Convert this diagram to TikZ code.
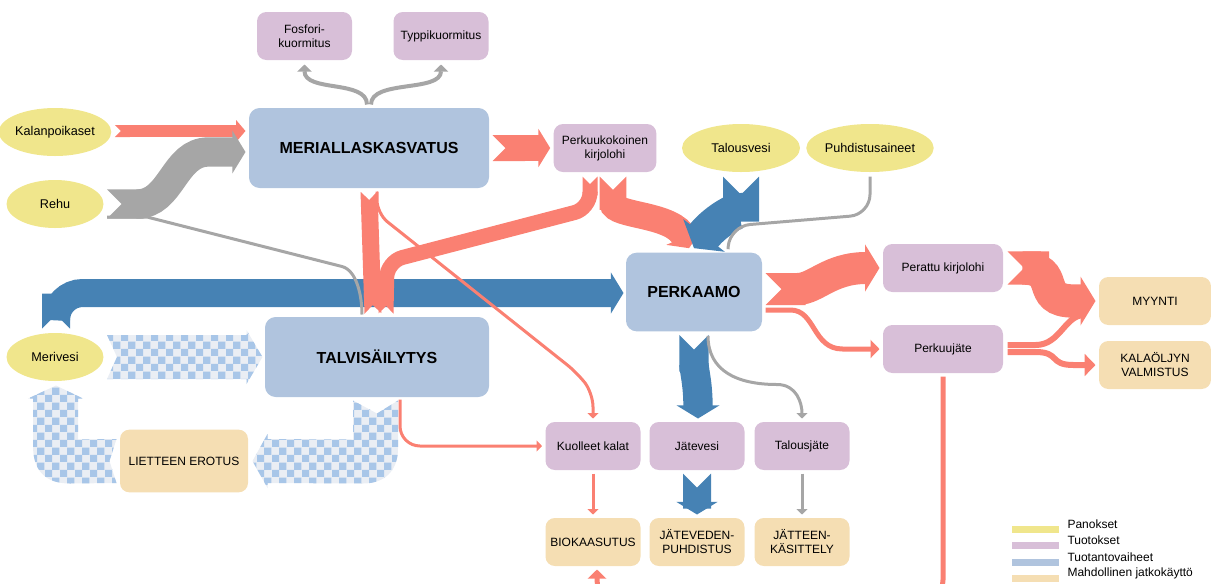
\documentclass[tikz,border=0pt]{standalone}
\usepackage{fontspec}
\setmainfont{Liberation Sans}
\usetikzlibrary{arrows.meta,calc,shapes.geometric,patterns}

\definecolor{panos}{RGB}{240,230,140}
\definecolor{tuotos}{RGB}{216,191,216}
\definecolor{vaihe}{RGB}{176,196,222}
\definecolor{jatko}{RGB}{245,222,179}
\definecolor{lohi}{RGB}{250,128,114}
\definecolor{vesi}{RGB}{70,130,180}
\definecolor{harmaa}{RGB}{166,166,166}
\definecolor{ruutu}{RGB}{168,198,232}
\definecolor{ruutupohja}{RGB}{234,238,244}

\tikzset{
  every picture/.style={line width=0.75pt},
  pieni/.style={font=\fontsize{9}{10.5}\selectfont},
  panosellipsi/.style={ellipse, fill=panos, inner sep=0pt, minimum width=72.75pt, minimum height=36pt, font=\fontsize{9.5}{11}\selectfont},
  tuotoslaatikko/.style={rectangle, rounded corners=7pt, fill=tuotos, inner sep=0pt, minimum width=71.25pt, minimum height=36pt, align=center, pieni},
  vaihelaatikko/.style={rectangle, rounded corners=8pt, fill=vaihe, inner sep=0pt, minimum height=60pt, font=\fontsize{12}{14}\selectfont\bfseries},
  jatkolaatikko/.style={rectangle, rounded corners=7pt, fill=jatko, inner sep=0pt, minimum width=71.25pt, minimum height=36pt, align=center, pieni},
  paksu/.style={line width=#1, {Triangle Cap[reversed]}-{Triangle[length=0pt 0.45, width=0pt 1.45]}},
  lovi/.style={line width=#1, {Triangle Cap[reversed]}-{Triangle Cap[reversed]}},
  ohut/.style={line width=#1, -{Triangle[length=0pt 1.8, width=0pt 3.6]}},
  ruudut/.style={preaction={fill=ruutupohja}, pattern=checkerboard, pattern color=ruutu},
}

\begin{document}
\begin{tikzpicture}[x=0.75pt,y=0.75pt,yscale=-1,xscale=1]
	\clip (0,0) rectangle (1211,583);

	% Panokset
	\node[panosellipsi] (kalanp) at (55,132) {Kalanpoikaset};
	\node[panosellipsi] (rehu) at (55,204) {Rehu};
	\node[panosellipsi] (merivesi) at (55,357) {Merivesi};
	\node[panosellipsi, minimum width=88.5pt] (talousvesi) at (741,148) {Talousvesi};
	\node[panosellipsi, minimum width=90pt] (puhdist) at (870,148) {Puhdistusaineet};

	% Tuotantovaiheet
	\node[vaihelaatikko, minimum width=180pt] (meri) at (369,148) {MERIALLASKASVATUS};
	\node[vaihelaatikko, minimum width=168pt] (talvi) at (377,357) {TALVIS\"AILYTYS};
	\node[vaihelaatikko, minimum width=102pt, minimum height=59pt] (perkaamo) at (694,292) {PERKAAMO};

	% Tuotokset
	\node[tuotoslaatikko] (fosfori) at (304.5,36) {Fosfori-\\kuormitus};
	\node[tuotoslaatikko] (typpi) at (441,36) {Typpikuormitus};
	\node[tuotoslaatikko, minimum width=77pt] (perkkok) at (605,148) {Perkuukokoinen\\kirjolohi};
	\node[tuotoslaatikko, minimum width=90pt] (perattu) at (943,268) {Perattu kirjolohi};
	\node[tuotoslaatikko, minimum width=90pt] (perkuujate) at (943,349) {Perkuuj\"ate};
	\node[tuotoslaatikko] (kuolleet) at (593,446) {Kuolleet kalat};
	\node[tuotoslaatikko] (jatevesi) at (697,446) {J\"atevesi};
	\node[tuotoslaatikko] (talousjate) at (802,446) {Talousj\"ate};

	% Mahdollinen jatkokaytto
	\node[jatkolaatikko, minimum width=84pt] (myynti) at (1155,301) {MYYNTI};
	\node[jatkolaatikko, minimum width=84pt] (kalaoljy) at (1155,365) {KALA\"OLJYN\\VALMISTUS};
	\node[jatkolaatikko, minimum width=96pt, minimum height=47pt] (liete) at (184,461) {LIETTEEN EROTUS};
	\node[jatkolaatikko] (biokaasu) at (593,542) {BIOKAASUTUS};
	\node[jatkolaatikko] (jatepuhd) at (697,542) {J\"ATEVEDEN-\\PUHDISTUS};
	\node[jatkolaatikko] (jatekas) at (802,542) {J\"ATTEEN-\\K\"ASITTELY};

	% Merivesi -> PERKAAMO
	\draw[paksu=21pt, vesi, rounded corners=20pt] ($(merivesi.north)+(1,-4)$) |- ($(perkaamo.west)+(-2,1)$);

	% Kierto: Merivesi -> TALVISAILYTYS -> LIETTEEN EROTUS -> Merivesi
	\fill[ruudut] ($(merivesi.east)+(3,-22)$) -- ($(talvi.west)+(-18,-22)$) -- ($(talvi.west)+(-18,-27)$) -- ($(talvi.west)+(-2,0)$) -- ($(talvi.west)+(-18,27)$) -- ($(talvi.west)+(-18,22)$) -- ($(merivesi.east)+(3,22)$) -- ($(merivesi.east)+(13,0)$) -- cycle;
	\fill[ruudut] ($(talvi.south)+(-24,3)$) -- ($(talvi.south)+(0,16)$) -- ($(talvi.south)+(21,3)$) -- ($(talvi.south)+(21,51)$) .. controls ($(talvi.south)+(21,73)$) and ($(talvi.south)+(8,86)$) .. ($(talvi.south)+(-14,86)$) -- ($(liete.east)+(19,22)$) -- ($(liete.east)+(19,27)$) -- ($(liete.east)+(4,0)$) -- ($(liete.east)+(19,-27)$) -- ($(liete.east)+(19,-22)$) -- ($(talvi.south)+(-24,42)$) -- cycle;
	\fill[ruudut] ($(liete.west)+(-3,-22)$) -- ($(merivesi.south)+(23,58)$) -- ($(merivesi.south)+(23,17)$) -- ($(merivesi.south)+(28,17)$) -- ($(merivesi.south)+(1,4)$) -- ($(merivesi.south)+(-27,17)$) -- ($(merivesi.south)+(-22,17)$) -- ($(merivesi.south)+(-22,64)$) .. controls ($(merivesi.south)+(-22,89)$) and ($(merivesi.south)+(-10,102)$) .. ($(merivesi.south)+(15,102)$) -- ($(liete.west)+(-3,22)$) -- ($(liete.west)+(-10,0)$) -- cycle;

	% Kalanpoikaset, Rehu -> MERIALLASKASVATUS
	\draw[paksu=9pt, lohi, {Triangle Cap[reversed]}-{Triangle[length=7pt, width=16pt]}] ($(kalanp.east)+(3,-1)$) -- ($(meri.west |- kalanp.east)+(-3,-1)$);
	\draw[paksu=22pt, harmaa] ($(rehu.east)+(3,0)$) -- ++(30,0) .. controls +(35,0) and +(-35,0) .. ($(meri.west)+(-40,4)$) -- ($(meri.west)+(-3,4)$);
	\draw[harmaa, line width=2.25pt] ($(rehu.east)+(3,13)$) -- ++(40,0) -- ($(talvi.north)+(-35,-50)$) .. controls +(15,4) and +(0,-18) .. ($(talvi.north)+(-15,-2)$);

	% MERIALLASKASVATUS -> kuormitus
	\draw[ohut=3pt, harmaa] ($(meri.north)+(-2,-3)$) .. controls +(0,-25) and +(0,28) .. ($(fosfori.south)+(0,4)$);
	\draw[ohut=3pt, harmaa] ($(meri.north)+(2,-3)$) .. controls +(0,-25) and +(0,28) .. ($(typpi.south)+(0,4)$);

	% MERIALLASKASVATUS -> Perkuukokoinen kirjolohi, TALVISAILYTYS, Kuolleet kalat
	\draw[paksu=19.5pt, lohi] ($(meri.east)+(3,0)$) -- ($(perkkok.west)+(-3,0)$);
	\draw[lovi=12.75pt, lohi] ($(meri.south)+(0,3)$) -- ($(talvi.north)+(-4,-3)$);
	\draw[ohut=2.25pt, lohi, rounded corners=10pt] ($(meri.south)+(8,3)$) -- ++(0,22) -- ($(kuolleet.north)+(-15,-48)$) -- ($(kuolleet.north)+(0,-28)$) -- ($(kuolleet.north)+(0,-3)$);

	% Perkuukokoinen kirjolohi -> TALVISAILYTYS, PERKAAMO
	\draw[lovi=11.25pt, lohi, rounded corners=12pt] ($(perkkok.south)+(-15,4)$) -- ++(0,32) -- ($(talvi.north)+(10,-55)$) -- ($(talvi.north)+(9,-3)$);
	\draw[paksu=20pt, lohi] ($(perkkok.south)+(8,4)$) .. controls +(0,40) and +(-15,-35) .. ($(perkaamo.north)+(-5,-4)$);

	% Talousvesi, Puhdistusaineet -> PERKAAMO
	\draw[paksu=27pt, vesi] ($(talousvesi.south)+(0,4)$) .. controls +(0,30) and +(22,-28) .. ($(perkaamo.north)+(0,-4)$);
	\draw[harmaa, line width=2.25pt, rounded corners=15pt] ($(puhdist.south)+(0,4)$) -- ++(0,38) -- ($(perkaamo.north)+(36,-26)$) -- ($(perkaamo.north)+(34,-3)$);

	% TALVISAILYTYS -> Kuolleet kalat
	\draw[ohut=2.25pt, lohi, rounded corners=15pt] ($(talvi.south)+(23,2)$) |- ($(kuolleet.west)+(-3,0)$);

	% PERKAAMO -> Jatevesi, Talousjate
	\draw[paksu=22pt, vesi] ($(perkaamo.south)+(0,3)$) .. controls +(0,35) and +(0,-35) .. ($(jatevesi.north)+(1,-3)$);
	\draw[ohut=2.25pt, harmaa] ($(perkaamo.south)+(14,4)$) .. controls +(0,35) and +(-40,0) .. ($(talousjate.north)+(-25,-37)$) .. controls +(20,0) and +(0,-15) .. ($(talousjate.north)+(0,-3)$);

	% PERKAAMO -> Perattu kirjolohi, Perkuujate
	\draw[paksu=24pt, lohi] ($(perkaamo.east)+(3,-3)$) .. controls +(50,0) and +(-50,0) .. ($(perattu.west)+(-3,0)$);
	\draw[ohut=3.75pt, lohi] ($(perkaamo.east)+(3,18)$) -- ++(25,0) .. controls +(25,0) and +(-30,0) .. ($(perkuujate.west)+(-40,0)$) -- ($(perkuujate.west)+(-3,0)$);

	% -> MYYNTI, KALAOLJYN VALMISTUS, BIOKAASUTUS
	\draw[paksu=25pt, lohi] ($(perattu.east)+(4,0)$) -- ++(15,0) .. controls +(40,0) and +(-40,0) .. ($(myynti.west)+(-25,0)$) -- ($(myynti.west)+(-3,0)$);
	\draw[lohi, line width=4.5pt] ($(perkuujate.east)+(4,-4)$) -- ++(28,0) .. controls +(25,0) and +(-20,0) .. ($(myynti.west)+(-14,14)$);
	\draw[ohut=4.5pt, lohi] ($(perkuujate.east)+(4,3)$) -- ++(28,0) .. controls +(25,0) and +(-25,0) .. ($(kalaoljy.west)+(-25,0)$) -- ($(kalaoljy.west)+(-3,0)$);
	\draw[ohut=3.75pt, lohi, rounded corners=20pt] ($(perkuujate.south)+(0,3)$) -- ++(0,230) -| ($(biokaasu.south)+(4,3)$);

	% Tuotokset -> jatkokaytto
	\draw[ohut=2.25pt, lohi] ($(kuolleet.south)+(0,3)$) -- ($(biokaasu.north)+(0,-3)$);
	\draw[paksu=21pt, vesi] ($(jatevesi.south)+(0,3)$) -- ($(jatepuhd.north)+(0,-3)$);
	\draw[ohut=2.25pt, harmaa] ($(talousjate.south)+(0,3)$) -- ($(jatekas.north)+(0,-3)$);

	% Selite
	\foreach \vari/\teksti [count=\i] in {panos/Panokset, tuotos/Tuotokset, vaihe/Tuotantovaiheet, jatko/Mahdollinen jatkok\"aytt\"o} {
		\fill[\vari] (1012,509+16.5*\i) rectangle ++(47,7);
		\node[anchor=west, inner sep=0pt, pieni] (selite\i) at (1067,507.5+16.5*\i) {\teksti};
	}
\end{tikzpicture}
\end{document}
